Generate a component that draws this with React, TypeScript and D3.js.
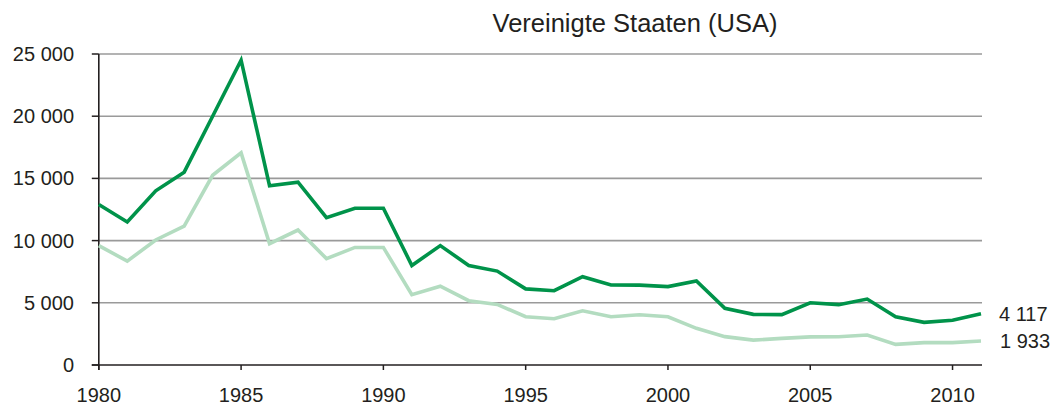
import React from "react";
import * as d3 from "d3";

const years: number[] = d3.range(1980, 2012);
const seriesDark: number[] = [
  12900, 11500, 14000, 15500, 20000, 24500, 14400, 14700, 11850, 12600,
  12600, 8000, 9600, 8000, 7550, 6120, 5970, 7100, 6430, 6420,
  6300, 6750, 4560, 4070, 4050, 5000, 4850, 5300, 3880, 3430,
  3600, 4117,
];
const seriesLight: number[] = [
  9600, 8350, 10050, 11170, 15250, 17050, 9750, 10850, 8550, 9450,
  9450, 5650, 6330, 5170, 4870, 3880, 3720, 4360, 3880, 4040,
  3880, 2950, 2280, 2000, 2140, 2260, 2270, 2410, 1660, 1800,
  1800, 1933,
];
const yTicks: number[] = [0, 5000, 10000, 15000, 20000, 25000];
const xTicks: number[] = [1980, 1985, 1990, 1995, 2000, 2005, 2010];
const title = "Vereinigte Staaten (USA)";
const endLabels: string[] = ["4 117", "1 933"];

const W = 1059;
const H = 409;
const FONT = "'Liberation Sans', Arial, sans-serif";
const TEXT = "#231f20";

const fmt = (v: number) => {
  const s = String(v);
  return s.replace(/\B(?=(\d{3})+(?!\d))/g, " ");
};

export default function App() {
  const x = d3.scaleLinear().domain([1980, 2011]).range([98.8, 981]);
  const y = d3.scaleLinear().domain([0, 25000]).range([365, 54]);
  const line = d3
    .line<number>()
    .x((_, i) => x(years[i]))
    .y((d) => y(d));

  const lastX = x(years[years.length - 1]);

  return (
    <svg
      width={W}
      height={H}
      style={{ position: "absolute", left: 0, top: 0, display: "block", background: "#fff" }}
      fontFamily={FONT}
    >
      {/* gridlines */}
      {yTicks.filter((t) => t > 0).map((t) => (
        <line key={t} x1={x(1980)} x2={lastX + 1} y1={y(t)} y2={y(t)} stroke="#9a9a9a" strokeWidth={1.6} />
      ))}
      {/* y axis */}
      <line x1={x(1980)} x2={x(1980)} y1={y(25000)} y2={y(0) + 5} stroke={TEXT} strokeWidth={1.6} />
      {yTicks.map((t) => (
        <g key={t}>
          <line x1={x(1980) - 7} x2={x(1980)} y1={y(t)} y2={y(t)} stroke={TEXT} strokeWidth={1.5} />
          <text x={74} y={y(t)} dy="0.35em" textAnchor="end" fontSize={20} fill={TEXT}>
            {fmt(t)}
          </text>
        </g>
      ))}
      {/* x axis */}
      <line x1={x(1980) - 7} x2={lastX + 1} y1={y(0)} y2={y(0)} stroke={TEXT} strokeWidth={1.6} />
      {xTicks.map((t) => (
        <g key={t}>
          <line x1={x(t)} x2={x(t)} y1={y(0)} y2={y(0) + 5} stroke={TEXT} strokeWidth={1.5} />
          <text x={x(t)} y={401.5} textAnchor="middle" fontSize={20} fill={TEXT}>
            {t}
          </text>
        </g>
      ))}
      {/* lines */}
      <path d={line(seriesLight) || ""} fill="none" stroke="#b3dcc0" strokeWidth={3.6} strokeLinejoin="miter" />
      <path d={line(seriesDark) || ""} fill="none" stroke="#00934a" strokeWidth={3.6} strokeLinejoin="miter" />
      {/* end labels */}
      <text x={999} y={y(seriesDark[seriesDark.length - 1])} dy="0.35em" fontSize={20} fill={TEXT}>
        {endLabels[0]}
      </text>
      <text x={1000} y={y(seriesLight[seriesLight.length - 1])} dy="0.35em" fontSize={20} fill={TEXT}>
        {endLabels[1]}
      </text>
      {/* title */}
      <text x={635} y={32} textAnchor="middle" fontSize={25.5} fill={TEXT}>
        {title}
      </text>
    </svg>
  );
}
